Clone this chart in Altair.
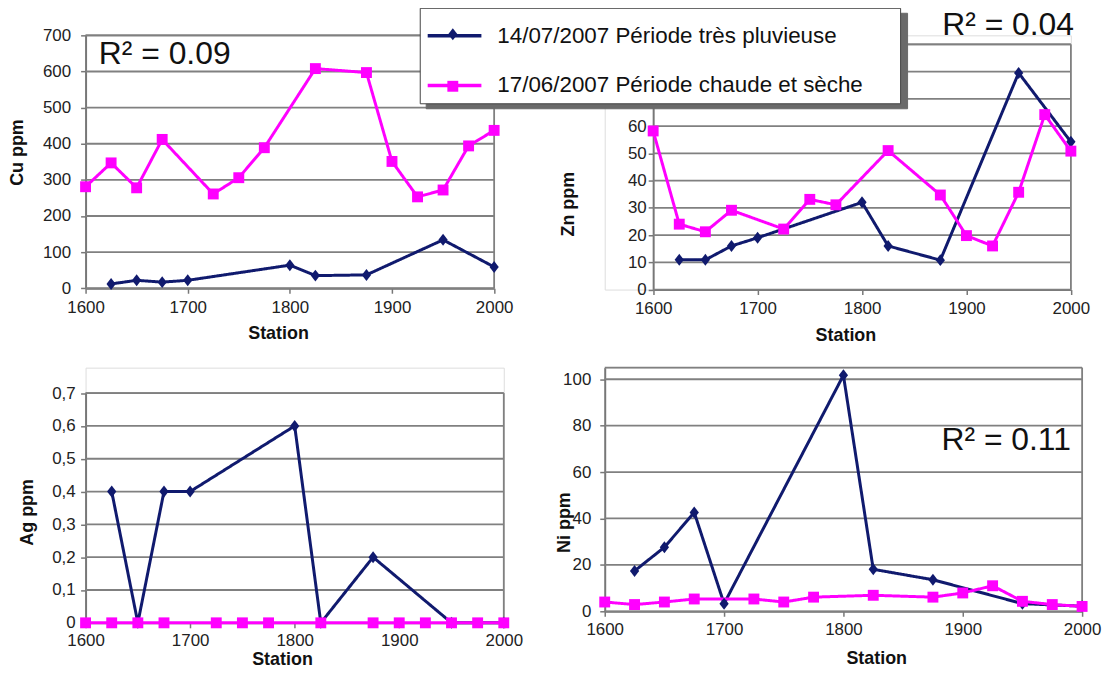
import altair as alt
import pandas as pd

# ---------------- data ----------------
SERIES = ["14/07/2007 Période très pluvieuse", "17/06/2007 Période chaude et sèche"]
COLORS = ["#101a6e", "#ff00ff"]

BLUE_STATIONS = [1625, 1650, 1675, 1700, 1800, 1825, 1875, 1950, 2000]
PINK_STATIONS = [1600, 1625, 1650, 1675, 1725, 1750, 1775, 1825, 1875, 1900, 1925, 1950, 1975, 2000]

CU_BLUE = [12, 22, 17, 22, 64, 35, 37, 134, 59]
CU_PINK = [281, 347, 278, 412, 261, 306, 389, 608, 597, 351, 253, 272, 394, 437]

ZN_BLUE = [10.9, 10.9, 16, 19, 32, 16, 10.8, 79.5, 54.2]
ZN_PINK = [58.2, 24, 21.2, 29.1, 22.2, 33.1, 31.1, 51, 34.7, 19.8, 16, 35.7, 64.2, 50.8]

AG_BLUE = [0.4, 0, 0.4, 0.4, 0.6, 0, 0.2, 0, 0]
AG_PINK = [0, 0, 0, 0, 0, 0, 0, 0, 0, 0, 0, 0, 0, 0]

NI_BLUE = [17.4, 27.6, 42.6, 3.3, 101.7, 18.1, 13.6, 3.3, 2.2]
NI_PINK = [4, 2.9, 4, 5.3, 5.3, 4, 6.1, 6.9, 6.1, 7.9, 11, 4.3, 2.9, 2.1]

X_TICKS = [1600, 1700, 1800, 1900, 2000]
CU_TICKS = [0, 100, 200, 300, 400, 500, 600, 700]
ZN_TICKS = [0, 10, 20, 30, 40, 50, 60, 70, 80, 90]
AG_TICKS = [0, 0.1, 0.2, 0.3, 0.4, 0.5, 0.6, 0.7]
NI_TICKS = [0, 20, 40, 60, 80, 100]

# ---------------- style ----------------
FONT = "Liberation Sans"
GRID = "#808080"
AXIS = "#777777"
DIAMOND = "M0,-1.1L0.85,0L0,1.1L-0.85,0Z"
LINE_SYMBOL = "M-1,0H1.7"
MARKS = [s + " " for s in SERIES]    # keys of the marker legend
SHADOW = [s + "  " for s in SERIES]  # keys of the legend-shadow box

LEG_X, LEG_Y = -186, -27.7   # legend box position, relative to the Zn panel

LEG_LINES = alt.Legend(
    title=".", titleOrient="right", titleFontSize=1, titleOpacity=0, titlePadding=30,
    orient="none", legendX=LEG_X, legendY=LEG_Y, zindex=2,
    fillColor="white", strokeColor="#444444", padding=6,
    symbolType=LINE_SYMBOL, symbolSize=1600, symbolStrokeWidth=3.5, rowPadding=16.1,
    labelFont=FONT, labelFontSize=22.5, labelColor="#111111",
    labelOffset=28, labelLimit=700,
)
LEG_SHADOW = alt.Legend(
    title=".", titleOrient="right", titleFontSize=1, titleOpacity=0, titlePadding=15.75,
    orient="none", legendX=LEG_X + 6, legendY=LEG_Y + 5, zindex=1,
    fillColor="#6a6a6a", strokeColor="#6a6a6a", padding=6,
    symbolType=LINE_SYMBOL, symbolSize=1600, symbolStrokeWidth=3.5, symbolOpacity=0,
    rowPadding=16.1,
    labelFont=FONT, labelFontSize=22.5, labelOpacity=0,
    labelOffset=405, labelLimit=700,
    labelExpr="'.'",
)
LEG_MARKS = alt.Legend(
    title=None, orient="none", legendX=LEG_X + 27.75, legendY=LEG_Y + 21, zindex=3,
    padding=0, symbolSize=120, symbolStrokeWidth=0, rowPadding=40.4,
    labelFontSize=1, labelOpacity=0, labelLimit=5, labelOffset=0,
    labelExpr="'.'",
)


def frame(blue, pink):
    rows = [{"station": s, "value": v, "series": SERIES[0], "mk": MARKS[0], "sh": SHADOW[0]}
            for s, v in zip(BLUE_STATIONS, blue)]
    rows += [{"station": s, "value": v, "series": SERIES[1], "mk": MARKS[1], "sh": SHADOW[1]}
             for s, v in zip(PINK_STATIONS, pink)]
    return pd.DataFrame(rows)


def panel(blue, pink, ytitle, ydom, yticks, width, height, xrange, yrange, yoffset,
          ylabpad, ytx, yty, xlabpad, xtx, xty, r2=None, label_expr=None, legend=False):
    df = frame(blue, pink)
    xkw = dict(domain=[1600, 2000], nice=False, zero=False)
    if xrange is not None:
        xkw["range"] = xrange
    xscale = alt.Scale(**xkw)
    ykw = dict(domain=ydom, nice=False, zero=False)
    if yrange is not None:
        ykw["range"] = yrange
    yscale = alt.Scale(**ykw)
    xaxis = alt.Axis(
        values=X_TICKS, format="d", title="Station", grid=False,
        labelFont=FONT, labelFontSize=17, labelColor="#222222", labelPadding=xlabpad,
        labelFlush=False, tickSize=5, tickColor=AXIS, tickWidth=1.5,
        domainColor=AXIS, domainWidth=2,
        titleFont=FONT, titleFontSize=18, titleFontWeight="bold", titleColor="#111111",
        titleX=xtx, titleY=xty, titleAlign="center", titleBaseline="middle",
    )
    yak = dict(
        values=yticks, title=ytitle, grid=False, offset=yoffset,
        labelFont=FONT, labelFontSize=17, labelColor="#222222", labelPadding=ylabpad,
        labelFlush=False, tickSize=5, tickColor=AXIS, tickWidth=1.5,
        domainColor=AXIS, domainWidth=2,
        titleFont=FONT, titleFontSize=18, titleFontWeight="bold", titleColor="#111111",
        titleX=ytx, titleY=yty, titleAngle=270, titleAlign="center", titleBaseline="middle",
    )
    if label_expr:
        yak["labelExpr"] = label_expr
    yaxis = alt.Axis(**yak)

    X = lambda **kw: alt.X(scale=xscale, axis=xaxis, **kw)
    Y = lambda **kw: alt.Y(scale=yscale, axis=yaxis, **kw)

    stroke = alt.Stroke("series:N", scale=alt.Scale(domain=SERIES, range=COLORS),
                        legend=LEG_LINES if legend else None)
    dash = alt.StrokeDash("sh:N", scale=alt.Scale(domain=SHADOW, range=[[1, 0], [1, 0]]),
                          legend=LEG_SHADOW if legend else None)
    fill = alt.Fill("mk:N", scale=alt.Scale(domain=MARKS, range=COLORS),
                    legend=LEG_MARKS if legend else None)
    shape = alt.Shape("mk:N", scale=alt.Scale(domain=MARKS, range=[DIAMOND, "square"]),
                      legend=LEG_MARKS if legend else None)

    base = alt.Chart(df)
    one = alt.Chart(pd.DataFrame({"k": [0]}))

    grid = alt.Chart(pd.DataFrame({"tick": yticks})).mark_rule(color=GRID, strokeWidth=1.8).encode(
        y=Y(field="tick", type="quantitative"), x=X(datum=1600), x2=alt.datum(2000))
    right = one.mark_rule(color=GRID, strokeWidth=1.8).encode(
        x=X(datum=2000), y=Y(datum=ydom[0]), y2=alt.datum(ydom[1]))
    top = one.mark_rule(color=GRID, strokeWidth=1.8).encode(
        x=X(datum=1600), x2=alt.datum(2000), y=Y(datum=ydom[1]))
    line = base.mark_line(strokeWidth=3).encode(
        x=X(field="station", type="quantitative"),
        y=Y(field="value", type="quantitative"),
        stroke=stroke, strokeDash=dash)
    pts = base.mark_point(filled=True, opacity=1, size=120, strokeWidth=0).encode(
        x=X(field="station", type="quantitative"),
        y=Y(field="value", type="quantitative"),
        fill=fill, shape=shape)
    layers = [grid, right, top, line, pts]
    if r2 is not None:
        layers.append(
            one.mark_text(text=r2[0], fontSize=32, align=r2[3], baseline="middle",
                          font=FONT, color="#111111").encode(
                x=X(datum=r2[1]), y=Y(datum=r2[2]))
        )
    return alt.layer(*layers).properties(width=width, height=height)


cu = panel(CU_BLUE, CU_PINK, "Cu ppm", [0, 700], CU_TICKS, 410.8, 254.3, None, None, 0,
           10, -68.2, 117.3, 6, 193.5, 46, r2=("R² = 0.09", 1613, 647, "left"))
zn = panel(ZN_BLUE, ZN_PINK, "Zn ppm", [0, 90], ZN_TICKS, 468.7, 255.6, [48.7, 468.7], [255.6, 9.0],
           -48.7, 2, -85, 169.3, 6, 242, 46, r2=("R² = 0.04", 2003, 97.2, "right"), legend=True,
           label_expr="datum.value > 60 ? '' : datum.label")
ag = panel(AG_BLUE, AG_PINK, "Ag ppm", [0, 0.7], AG_TICKS, 420.5, 256.6, None, [256.6, 25.6], 0,
           5.5, -58.5, 145, 4.5, 197.5, 37,
           label_expr="replace(format(datum.value, '.1~f'), '.', ',')")
ni = panel(NI_BLUE, NI_PINK, "Ni ppm", [0, 105], NI_TICKS, 480, 245, None, None, 0,
           9, -40, 155.3, 5, 273, 47, r2=("R² = 0.11", 1990.6, 73.6, "right"))

chart = (
    alt.concat(cu, zn, ag, ni, columns=2, spacing={"row": 78.1, "column": 101},
               bounds="flush", align="each")
    .resolve_scale(stroke="independent", strokeDash="independent",
                   fill="independent", shape="independent")
    .properties(padding={"left": 0, "top": -3.3, "right": 0, "bottom": -3},
                background="white")
    .configure_view(stroke=None)
    .configure(font=FONT)
)

chart.save("out.html", embed_options={"renderer": "svg", "actions": False})
